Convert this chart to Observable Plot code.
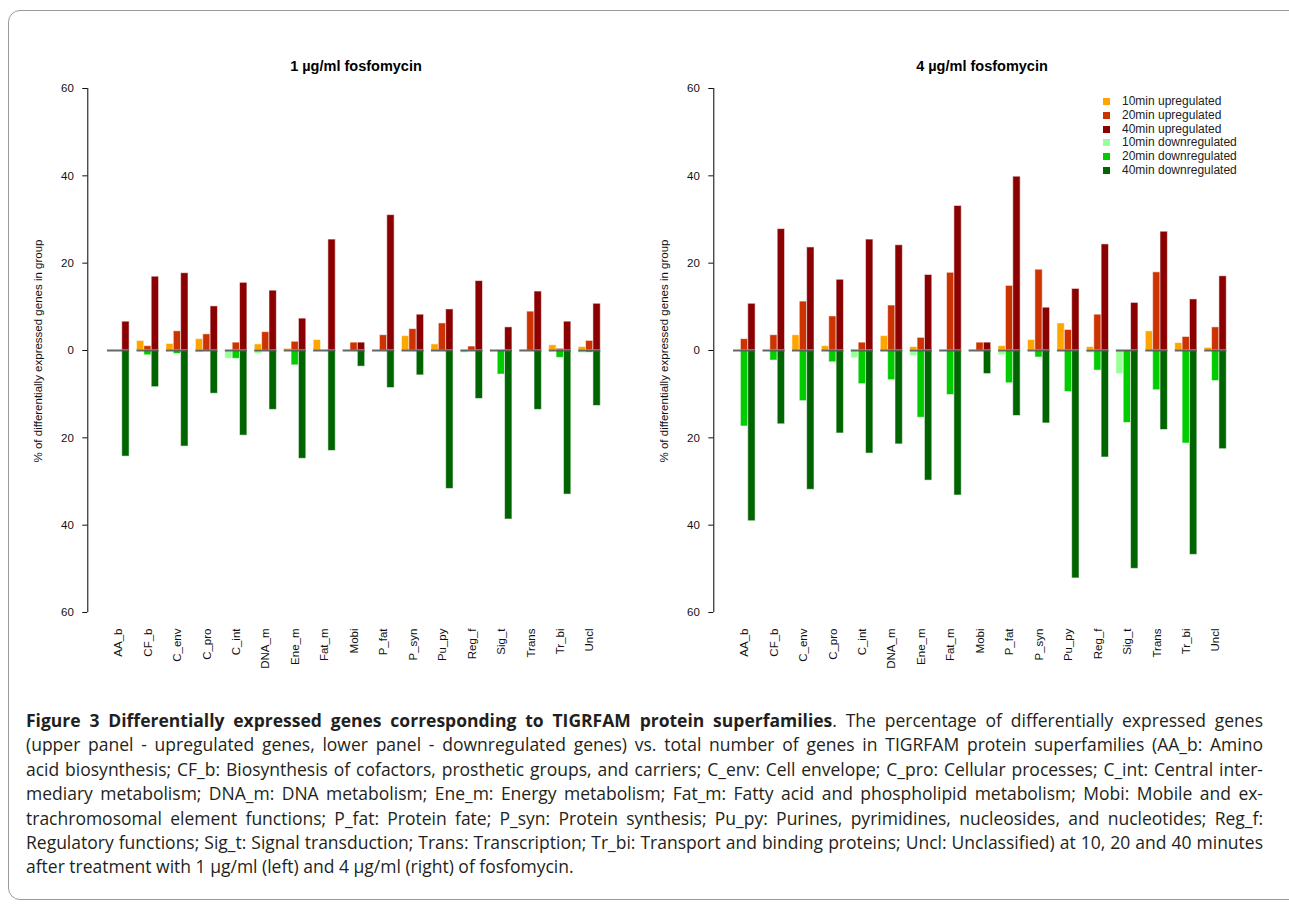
<!DOCTYPE html>
<html>
<head>
<meta charset="utf-8">
<script src="https://cdn.jsdelivr.net/npm/d3@7"></script>
<script src="https://cdn.jsdelivr.net/npm/@observablehq/plot@0.6"></script>
<style>
  html, body { margin: 0; padding: 0; background: #fff; }
  body { width: 1289px; height: 904px; position: relative; overflow: hidden; font-family: "Liberation Sans", Arial, sans-serif; }
  .frame { position: absolute; left: 8px; top: 10px; width: 1310px; height: 888px; border: 1px solid #9a9a9a; border-radius: 12px; }
  .panel { position: absolute; top: 0; }
  .title { position: absolute; font: bold 14.5px "Liberation Sans", Arial, sans-serif; color: #000; text-align: center; width: 400px; }
  .ylab { position: absolute; font: 11.5px "Liberation Sans", Arial, sans-serif; color: #111; white-space: nowrap; width: 300px; text-align: center; transform: rotate(-90deg); }
  .legend { position: absolute; left: 1103px; top: 95px; font: 12px "Liberation Sans", Arial, sans-serif; color: #222; }
  .legend div { height: 13.8px; line-height: 13.8px; white-space: nowrap; position: relative; }
  .legend span.sw { display: inline-block; width: 7px; height: 7px; position: absolute; left: 0; top: 3px; }
  .legend span.lb { position: absolute; left: 19px; top: 0; }
  .caption { position: absolute; left: 26px; top: 708px; width: 1237px; font-family: "Open Sans", "Noto Sans", sans-serif; font-size: 17.5px; color: #231f20; }
  .caption div { height: 24.4px; line-height: 24.4px; white-space: nowrap; text-align: justify; text-align-last: justify; }
  .caption div.last { text-align-last: left; }
</style>
</head>
<body>
<div class="frame"></div>
<div id="left" class="panel" style="left:0px"></div>
<div id="right" class="panel" style="left:626.4px"></div>
<div class="title" style="left:156px; top:58px">1 µg/ml fosfomycin</div>
<div class="title" style="left:782px; top:58px">4 µg/ml fosfomycin</div>
<div class="ylab" style="left:-112px; top:345px">% of differentially expressed genes in group</div>
<div class="ylab" style="left:514px; top:345px">% of differentially expressed genes in group</div>
<div class="legend" id="legend"></div>
<div class="caption">
  <div><b>Figure 3 Differentially expressed genes corresponding to TIGRFAM protein superfamilies</b>. The percentage of differentially expressed genes</div>
  <div>(upper panel - upregulated genes, lower panel - downregulated genes) vs. total number of genes in TIGRFAM protein superfamilies (AA_b: Amino</div>
  <div>acid biosynthesis; CF_b: Biosynthesis of cofactors, prosthetic groups, and carriers; C_env: Cell envelope; C_pro: Cellular processes; C_int: Central inter-</div>
  <div>mediary metabolism; DNA_m: DNA metabolism; Ene_m: Energy metabolism; Fat_m: Fatty acid and phospholipid metabolism; Mobi: Mobile and ex-</div>
  <div>trachromosomal element functions; P_fat: Protein fate; P_syn: Protein synthesis; Pu_py: Purines, pyrimidines, nucleosides, and nucleotides; Reg_f:</div>
  <div>Regulatory functions; Sig_t: Signal transduction; Trans: Transcription; Tr_bi: Transport and binding proteins; Uncl: Unclassified) at 10, 20 and 40 minutes</div>
  <div class="last">after treatment with 1 µg/ml (left) and 4 µg/ml (right) of fosfomycin.</div>
</div>
<script>
// ---- Data ----
const categories = ["AA_b","CF_b","C_env","C_pro","C_int","DNA_m","Ene_m","Fat_m","Mobi","P_fat","P_syn","Pu_py","Reg_f","Sig_t","Trans","Tr_bi","Uncl"];
const seriesNames = ["10min upregulated","20min upregulated","40min upregulated","10min downregulated","20min downregulated","40min downregulated"];
const seriesColors = ["#ffa500","#cc3300","#8b0000","#99ff99","#00cc00","#006400"];
const yTicks = [-60,-40,-20,0,20,40,60];

// 1 µg/ml fosfomycin (% of genes in group)
const up10_1   = [0, 2.2, 1.5, 2.6, 0, 1.4, 0.4, 2.4, 0, 0, 3.3, 1.4, 0, 0, 0, 1.2, 0.8];
const up20_1   = [0, 1.0, 4.4, 3.7, 1.8, 4.2, 2.0, 0, 1.8, 3.5, 4.9, 6.2, 0.9, 0, 8.9, 0.4, 2.2];
const up40_1   = [6.6, 16.9, 17.7, 10.1, 15.5, 13.7, 7.3, 25.4, 1.8, 31.0, 8.2, 9.4, 15.9, 5.3, 13.5, 6.6, 10.7];
const down10_1 = [0, 0, 0, 0.5, 1.9, 0.8, 0, 0, 0, 0, 0, 0, 0.6, 0, 0, 0, 0.6];
const down20_1 = [0, 1.1, 0.8, 0, 1.9, 0, 3.4, 0, 0, 0, 0, 0, 0, 5.5, 0, 1.7, 0.5];
const down40_1 = [24.3, 8.4, 22.0, 9.9, 19.5, 13.6, 24.8, 23.0, 3.7, 8.6, 5.7, 31.7, 11.1, 38.7, 13.6, 33.0, 12.7];

// 4 µg/ml fosfomycin
const up10_4   = [0, 0, 3.5, 1.0, 0, 3.3, 0.8, 0, 0, 1.0, 2.4, 6.2, 0.8, 0, 4.4, 1.7, 0.6];
const up20_4   = [2.6, 3.5, 11.2, 7.8, 1.8, 10.3, 2.9, 17.8, 1.8, 14.8, 18.5, 4.7, 8.2, 0, 17.9, 3.1, 5.3];
const up40_4   = [10.7, 27.8, 23.6, 16.2, 25.4, 24.1, 17.3, 33.1, 1.8, 39.8, 9.8, 14.1, 24.3, 10.9, 27.2, 11.7, 17.0];
const down10_4 = [0, 0, 0, 0, 1.8, 0, 1.3, 0, 0, 1.1, 0, 0, 0.6, 5.4, 0, 0, 0];
const down20_4 = [17.4, 2.3, 11.6, 2.7, 7.7, 6.8, 15.4, 10.2, 0, 7.5, 1.6, 9.5, 4.6, 16.6, 9.1, 21.3, 7.0];
const down40_4 = [39.1, 16.9, 31.9, 19.0, 23.6, 21.5, 29.8, 33.2, 5.4, 15.0, 16.7, 52.2, 24.5, 50.0, 18.2, 46.8, 22.6];

// ---- Build ----
function panel(arrays) {
  // barplot-like layout: groups of 3 bars, one gap unit between groups
  const rows = [];
  arrays.forEach((arr, s) => {
    const slot = s % 3, sign = s < 3 ? 1 : -1;
    arr.forEach((v, i) => {
      if (v > 0) rows.push({cat: categories[i], series: seriesNames[s], x1: 1 + 4 * i + slot, x2: 2 + 4 * i + slot, v: sign * v});
    });
  });
  const groups = categories.map((c, i) => ({cat: c, x1: 1 + 4 * i, x2: 4 + 4 * i, xc: 2.5 + 4 * i}));
  const lo = 1, hi = 4 * categories.length;
  const pad = (hi - lo) * 0.04;
  const xlo = lo - pad, xhi = hi + pad;
  return Plot.plot({
    width: 640, height: 690,
    marginLeft: 87.3, marginRight: 20, marginTop: 88, marginBottom: 78,
    style: {fontFamily: '"Liberation Sans", Arial, sans-serif', fontSize: "11.5px", color: "#111", background: "transparent", overflow: "visible"},
    x: {domain: [xlo, xhi], range: [87.3, 620], axis: null},
    y: {domain: [-60, 60], range: [612, 88], axis: null},
    color: {domain: seriesNames, range: seriesColors},
    marks: [
      Plot.rectY(rows, {x1: "x1", x2: "x2", y1: 0, y2: "v", fill: "series", stroke: "#fff", strokeOpacity: 0.55, strokeWidth: 1}),
      Plot.ruleY(groups, {x1: "x1", x2: "x2", y: () => 0, stroke: "#555", strokeWidth: 2, strokeOpacity: 0.9}),
      Plot.ruleX([xlo], {y1: -60, y2: 60, stroke: "#000", strokeWidth: 1}),
      Plot.axisY({ticks: yTicks, tickFormat: d => Math.abs(d), tickSize: 5, tickPadding: 9, label: null, anchor: "left"}),
      Plot.text(groups, {x: "xc", y: () => -60, text: "cat", rotate: -90, textAnchor: "end", dy: 16, fontSize: 11.5, fill: "#111"})
    ]
  });
}

document.getElementById("left").appendChild(panel([up10_1, up20_1, up40_1, down10_1, down20_1, down40_1]));
document.getElementById("right").appendChild(panel([up10_4, up20_4, up40_4, down10_4, down20_4, down40_4]));

const lg = document.getElementById("legend");
seriesNames.forEach((n, i) => {
  const d = document.createElement("div");
  d.innerHTML = `<span class="sw" style="background:${seriesColors[i]}"></span><span class="lb">${n}</span>`;
  lg.appendChild(d);
});
</script>
</body>
</html>
